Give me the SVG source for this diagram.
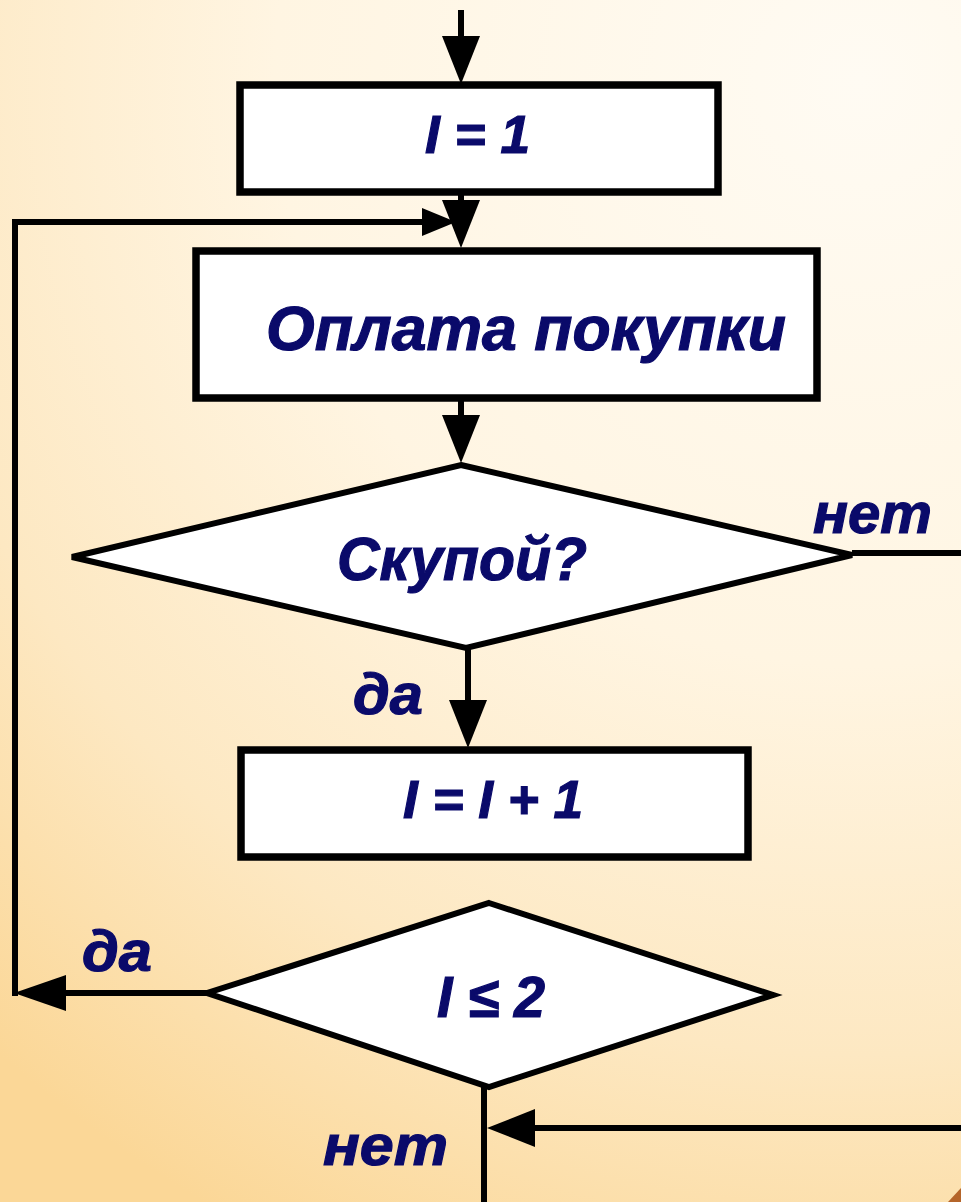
<svg xmlns="http://www.w3.org/2000/svg" width="961" height="1202" viewBox="0 0 961 1202">
  <style>
    .box { fill: #ffffff; stroke: #000000; stroke-width: 7.5; }
    .dia { fill: #ffffff; stroke: #000000; stroke-width: 6; stroke-linejoin: miter; }
    .ln { fill: none; stroke: #000000; stroke-width: 6; }
    .txt { font-family: "Liberation Sans", Arial, sans-serif; font-weight: bold; font-style: italic; fill: #0a0a6a; stroke: #0a0a6a; stroke-width: 1.2; }
  </style>
  <defs>
    <radialGradient id="bg" gradientUnits="userSpaceOnUse" cx="860" cy="80" r="1300">
      <stop offset="0" stop-color="#FFFBF3"/>
      <stop offset="0.45" stop-color="#FFF5E2"/>
      <stop offset="0.75" stop-color="#FDE8C2"/>
      <stop offset="1" stop-color="#FBD797"/>
    </radialGradient>
    <marker id="arrow" markerUnits="userSpaceOnUse" markerWidth="48" markerHeight="38" refX="0" refY="19" orient="auto" overflow="visible">
      <path d="M0,0 L48,19 L0,38 Z" fill="#000000"/>
    </marker>
    <marker id="arrowS" markerUnits="userSpaceOnUse" markerWidth="34" markerHeight="28" refX="0" refY="14" orient="auto" overflow="visible">
      <path d="M0,0 L34,14 L0,28 Z" fill="#000000"/>
    </marker>
  </defs>

  <rect x="0" y="0" width="961" height="1202" fill="url(#bg)"/>
  <path d="M948,1202 L961,1188 L961,1202 Z" fill="#B5652A"/>

  <g id="connectors">
    <line class="ln" x1="461" y1="10" x2="461" y2="36" marker-end="url(#arrow)"/>
    <line class="ln" x1="461" y1="192" x2="461" y2="200" marker-end="url(#arrow)"/>
    <polyline class="ln" points="207,993 66,993"/>
    <path d="M66,975 L14,993 L66,1011 Z" fill="#000000"/>
    <polyline class="ln" points="15,996 15,222 422,222" marker-end="url(#arrowS)"/>
    <line class="ln" x1="461" y1="398" x2="461" y2="415" marker-end="url(#arrow)"/>
    <line class="ln" x1="852" y1="553" x2="961" y2="553"/>
    <line class="ln" x1="468" y1="648" x2="468" y2="700" marker-end="url(#arrow)"/>
    <line class="ln" x1="486" y1="857" x2="486" y2="856" marker-end="url(#arrow)"/>
    <line class="ln" x1="484" y1="1086" x2="484" y2="1202"/>
    <line class="ln" x1="961" y1="1128" x2="535" y2="1128" marker-end="url(#arrow)"/>
  </g>

  <g id="node-init">
    <rect class="box" x="240" y="85" width="478" height="107"/>
    <text class="txt" x="425" y="153" font-size="54" textLength="105" lengthAdjust="spacingAndGlyphs">I = 1</text>
  </g>

  <g id="node-pay">
    <rect class="box" x="196" y="251" width="621" height="147"/>
    <text class="txt" x="266" y="350" font-size="63" textLength="520" lengthAdjust="spacingAndGlyphs">Оплата покупки</text>
  </g>

  <g id="node-stingy">
    <polygon class="dia" points="461,465 852,555 466,648 72,557"/>
    <text class="txt" x="337" y="580" font-size="61" textLength="250" lengthAdjust="spacingAndGlyphs">Скупой?</text>
  </g>

  <g id="node-inc">
    <rect class="box" x="241" y="750" width="507" height="107"/>
    <text class="txt" x="403" y="818" font-size="54" textLength="180" lengthAdjust="spacingAndGlyphs">I = I + 1</text>
  </g>

  <g id="node-check">
    <polygon class="dia" points="489,903 773,995 489,1087 207,993"/>
    <text class="txt" x="437" y="1017" font-size="57" textLength="108" lengthAdjust="spacingAndGlyphs">I ≤ 2</text>
  </g>

  <g id="labels">
    <text class="txt" x="813" y="533" font-size="58" textLength="119" lengthAdjust="spacingAndGlyphs">нет</text>
    <text class="txt" x="353" y="714" font-size="58" textLength="70" lengthAdjust="spacingAndGlyphs">да</text>
    <text class="txt" x="82" y="971" font-size="58" textLength="70" lengthAdjust="spacingAndGlyphs">да</text>
    <text class="txt" x="323" y="1165" font-size="58" textLength="125" lengthAdjust="spacingAndGlyphs">нет</text>
  </g>
</svg>
